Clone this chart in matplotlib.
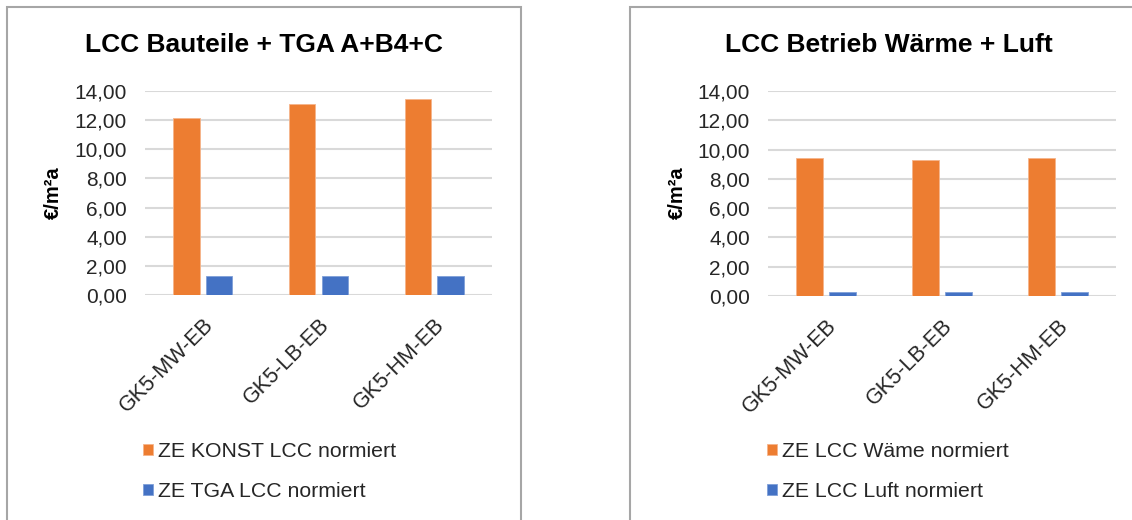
import matplotlib
matplotlib.use("Agg")
import matplotlib.pyplot as plt
from matplotlib.patches import Rectangle
from matplotlib.ticker import FuncFormatter, MultipleLocator
import numpy as np

plt.rcParams['font.family'] = ['Liberation Sans', 'DejaVu Sans']

categories = ["GK5-MW-EB", "GK5-LB-EB", "GK5-HM-EB"]

left_title = "LCC Bauteile + TGA A+B4+C"
left_series = ["ZE KONST LCC normiert", "ZE TGA LCC normiert"]
left_konst = [12.13, 13.09, 13.43]
left_tga = [1.30, 1.30, 1.30]

right_title = "LCC Betrieb Wärme + Luft"
right_series = ["ZE LCC Wäme normiert", "ZE LCC Luft normiert"]
right_waerme = [9.40, 9.31, 9.40]
right_luft = [0.30, 0.30, 0.30]

y_label = "€/m²a"
orange = "#ED7D31"
blue = "#4472C4"

W, H = 1132, 520
fig = plt.figure(figsize=(W / 100, H / 100), dpi=100)


def fx(px):
    return px / W


def fy(py):
    return 1 - py / H


# panel borders
for x0, x1 in [(7, 521), (630, 1140)]:
    fig.patches.append(Rectangle((fx(x0), fy(530)), fx(x1) - fx(x0), fy(7) - fy(530),
                                 transform=fig.transFigure, fill=False,
                                 edgecolor="#A6A6A6", linewidth=1.5, zorder=0))


def comma_fmt(v, pos):
    return f"{v:.2f}".replace(".", ",")


def draw(ax_rect, title, title_x, ylab_x, s1, s2, names, legend_x):
    ax = fig.add_axes(ax_rect)
    x = np.arange(len(categories))
    w = 0.23
    off = 0.141
    ax.bar(x - off, s1, w, color=orange, label=names[0], zorder=3,
           edgecolor="#F5B48A", linewidth=0.6)
    ax.bar(x + off, s2, w, color=blue, label=names[1], zorder=3,
           edgecolor="#7F9FD8", linewidth=0.6)
    ax.set_xlim(-0.5, len(categories) - 0.5)
    ax.set_ylim(0, 14)
    ax.yaxis.set_major_locator(MultipleLocator(2))
    ax.yaxis.set_major_formatter(FuncFormatter(comma_fmt))
    ax.grid(axis="y", color="#D9D9D9", linewidth=1.5, zorder=0)
    ax.set_axisbelow(True)
    for s in ax.spines.values():
        s.set_visible(False)
    ax.tick_params(axis="y", length=0, pad=13, labelsize=15, labelcolor="#262626")
    ax.tick_params(axis="x", length=0, pad=14, labelsize=15.5, labelcolor="#262626")
    ax.set_xticks(x)
    ax.set_xticklabels(categories, rotation=45, ha="right", va="top",
                       rotation_mode="anchor")
    fig.text(title_x, fy(45), title, ha="center", va="center",
             fontsize=19, fontweight="bold", color="black")
    fig.text(ylab_x, fy(193), y_label, ha="center", va="center", rotation=90,
             fontsize=14.5, fontweight="bold", color="black")
    fig.legend(handles=ax.patches[:1] + ax.patches[3:4], labels=names,
               loc="upper left", bbox_to_anchor=(legend_x, fy(442)),
               frameon=False, fontsize=15.3, handlelength=0.45, handleheight=0.45,
               handletextpad=0.25, labelspacing=1.0, borderpad=0,
               borderaxespad=0, labelcolor="#262626")
    return ax


draw([fx(145), fy(295), fx(492) - fx(145), fy(91) - fy(295)],
     left_title, fx(264), fx(53), left_konst, left_tga, left_series, fx(143))
draw([fx(768), fy(296), fx(1116) - fx(768), fy(91) - fy(296)],
     right_title, fx(889), fx(677), right_waerme, right_luft, right_series, fx(767))

fig.savefig("out.png", dpi=100)
